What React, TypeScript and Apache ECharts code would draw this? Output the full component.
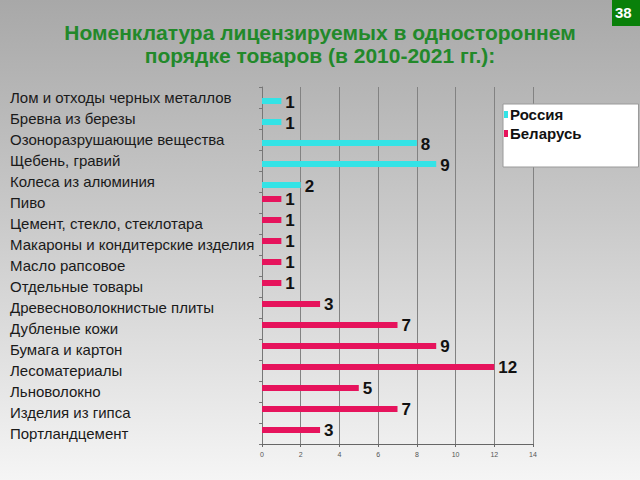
import React, { useEffect, useRef } from "react";
import * as echarts from "echarts";

const categories = [
  "Лом и отходы черных металлов",
  "Бревна из березы",
  "Озоноразрушающие вещества",
  "Щебень, гравий",
  "Колеса из алюминия",
  "Пиво",
  "Цемент, стекло, стеклотара",
  "Макароны и кондитерские изделия",
  "Масло рапсовое",
  "Отдельные товары",
  "Древесноволокнистые плиты",
  "Дубленые кожи",
  "Бумага и картон",
  "Лесоматериалы",
  "Льноволокно",
  "Изделия из гипса",
  "Портландцемент",
];
const russia = [1, 1, 8, 9, 2, null, null, null, null, null, null, null, null, null, null, null, null];
const belarus = [null, null, null, null, null, 1, 1, 1, 1, 1, 3, 7, 9, 12, 5, 7, 3];
const xTicks = { min: 0, max: 14, interval: 2 };
const titleText = "Номенклатура лицензируемых в одностороннем\nпорядке товаров (в 2010-2021 гг.):";
const pageNumber = "38";

export default function App() {
  const ref = useRef<HTMLDivElement>(null);
  useEffect(() => {
    if (!ref.current) return;
    const chart = echarts.init(ref.current, null, { renderer: "svg" });
    const font = "'Liberation Sans', Arial, sans-serif";
    const label = {
      show: true,
      position: "right",
      distance: 4,
      fontSize: 17,
      fontWeight: "bold",
      color: "#111",
      fontFamily: font,
      offset: [0, 1],
    };
    chart.setOption({
      animation: false,
      backgroundColor: "transparent",
      title: {
        text: titleText,
        left: "center",
        top: 16,
        textStyle: {
          fontSize: 21,
          fontWeight: "bold",
          color: "#22892a",
          fontFamily: font,
          lineHeight: 23,
        },
      },
      legend: {
        data: ["Россия", "Беларусь"],
        orient: "vertical",
        left: 503,
        top: 104,
        icon: "rect",
        itemWidth: 4,
        itemHeight: 7,
        itemGap: 4,
        padding: [3, 57, 26, 1],
        backgroundColor: "#ffffff",
        borderColor: "#9a9a9a",
        borderWidth: 1,
        textStyle: {
          fontSize: 15,
          fontWeight: "bold",
          color: "#111",
          fontFamily: font,
          padding: [0, 0, 0, -3],
        },
      },
      grid: { left: 262, right: 107, top: 87, bottom: 36, containLabel: false },
      xAxis: {
        type: "value",
        min: xTicks.min,
        max: xTicks.max,
        interval: xTicks.interval,
        axisLine: { show: true, lineStyle: { color: "#666", width: 1 } },
        axisTick: { show: true, length: 3, lineStyle: { color: "#666" } },
        axisLabel: { fontSize: 7, color: "#555", margin: 7, fontFamily: font },
        splitLine: { show: true, lineStyle: { color: "#828282", width: 1 } },
      },
      yAxis: {
        type: "category",
        data: categories,
        inverse: true,
        axisLine: { show: true, lineStyle: { color: "#777", width: 1 } },
        axisTick: { show: true, length: 3, lineStyle: { color: "#777" } },
        axisLabel: {
          align: "left",
          margin: 252,
          fontSize: 15,
          color: "#1a1a1a",
          fontFamily: font,
        },
      },
      series: [
        {
          name: "Беларусь",
          type: "bar",
          data: belarus,
          barWidth: 6,
          barGap: "17%",
          itemStyle: { color: "#e6135c" },
          label,
        },
        {
          name: "Россия",
          type: "bar",
          data: russia,
          barWidth: 6,
          barGap: "17%",
          itemStyle: { color: "#33e3e6" },
          label,
        },
      ],
      graphic: [
        {
          type: "rect",
          left: 612,
          top: 0,
          shape: { width: 28, height: 26 },
          style: { fill: "#0a800a" },
        },
        {
          type: "text",
          left: 615,
          top: 5,
          style: {
            text: pageNumber,
            fill: "#ffffff",
            fontSize: 15,
            fontWeight: "bold",
            fontFamily: font,
          },
        },
      ],
    });
    return () => chart.dispose();
  }, []);
  return (
    <div
      style={{
        position: "fixed",
        left: 0,
        top: 0,
        width: 640,
        height: 480,
        background: "linear-gradient(to bottom, #a8a8a8 0%, #c9c9c9 45%, #f5f5f5 100%)",
      }}
    >
      <div ref={ref} style={{ width: 640, height: 480 }} />
    </div>
  );
}
